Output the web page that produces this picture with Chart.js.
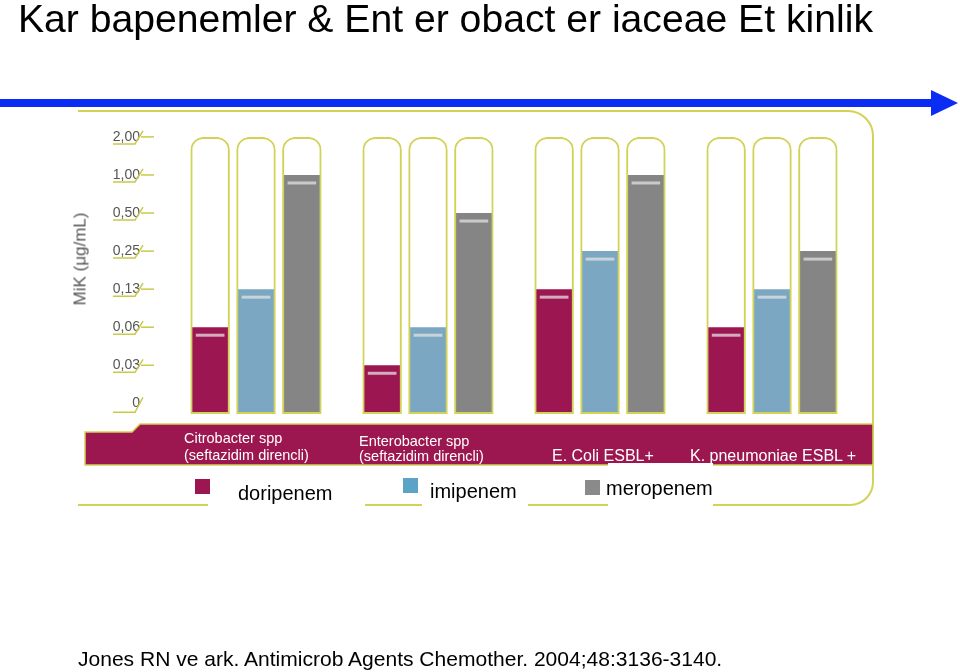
<!DOCTYPE html>
<html>
<head>
<meta charset="utf-8">
<script src="https://cdn.jsdelivr.net/npm/chart.js@4.4.1/dist/chart.umd.min.js"></script>
<style>
  body { margin: 0; background: #fff; }
  #page { position: relative; width: 960px; height: 672px; overflow: hidden; font-family: "Liberation Sans", Arial, sans-serif; }
  #page canvas { position: absolute; left: 0; top: 0; }
  .txt { position: absolute; white-space: nowrap; line-height: 1; transform-origin: 0 0; }
  .band { color: #fff; }
  .sq { position: absolute; width: 15px; height: 15px; }
</style>
</head>
<body>
<div id="page">
  <canvas id="chart" width="960" height="672"></canvas>

  <div class="txt" id="title" style="left:18px; top:-1px; font-size:39px; color:#000;">Kar bapenemler &amp; Ent er obact er iaceae Et kinlik</div>

  <div class="txt" id="ytitle" style="left:80px; top:259px; font-size:17px; color:#555; transform: translate(-50%,-50%) rotate(-90deg); transform-origin: 50% 50%;">MiK (μg/mL)</div>

  <div class="txt band" style="left:184px; top:431px; font-size:14.5px;">Citrobacter spp</div>
  <div class="txt band" style="left:184px; top:448px; font-size:14.5px;">(seftazidim direncli)</div>
  <div class="txt band" style="left:359px; top:434px; font-size:14.5px;">Enterobacter spp</div>
  <div class="txt band" style="left:359px; top:449px; font-size:14.5px;">(seftazidim direncli)</div>
  <div class="txt band" style="left:552px; top:448px; font-size:16px;">E. Coli ESBL+</div>
  <div class="txt band" style="left:690px; top:448px; font-size:16px;">K. pneumoniae ESBL +</div>

  <div id="legend"></div>

  <div class="txt" id="footer" style="left:78px; top:648px; font-size:21px; color:#000;">Jones RN ve ark. Antimicrob Agents Chemother. 2004;48:3136-3140.</div>
</div>

<script>
// MIC levels on the (log-like) axis, shown as equal steps
const MIC_LEVELS = [0, 0.03, 0.06, 0.13, 0.25, 0.5, 1, 2];
const TICK_LABELS = ['0', '0,03', '0,06', '0,13', '0,25', '0,50', '1,00', '2,00'];

const ORGANISMS = ['Citrobacter spp', 'Enterobacter spp', 'E. Coli ESBL+', 'K. pneumoniae ESBL +'];

const SERIES_NAMES = ['doripenem', 'imipenem', 'meropenem'];
const DORIPENEM = [0.06, 0.03, 0.13, 0.06];
const IMIPENEM = [0.13, 0.06, 0.25, 0.13];
const MEROPENEM = [1, 0.5, 1, 0.25];

const BAR_COLORS = ['#9c1652', '#7ba7c2', '#858585'];
const LEGEND_COLORS = ['#9c1652', '#5ba4c6', '#8a8a8a'];
const OLIVE = '#d2d257';
const Y_MIN = -0.28;

// convert a MIC value to its step on the axis
function level(v){
    return MIC_LEVELS.indexOf(v);
}

let seriesData = [DORIPENEM, IMIPENEM, MEROPENEM];

let datasets = [];

// tube outlines share a slot (stack) with their coloured bar, drawn on top
for(let i=0; i<3; i++){
    datasets.push({
        label: 'tube' + i,
        stack: 's' + i,
        data: ORGANISMS.map(() => MIC_LEVELS.length - 1),
        backgroundColor: 'rgba(0,0,0,0)',
        borderColor: OLIVE,
        borderWidth: 2,
        borderSkipped: false,
        borderRadius: {topLeft: 13, topRight: 13, bottomLeft: 0, bottomRight: 0},
        barPercentage: 0.86,
        base: Y_MIN,
        order: 0
    });
}

for(let i=0; i<3; i++){
    datasets.push({
        label: SERIES_NAMES[i],
        stack: 's' + i,
        data: seriesData[i].map(level),
        backgroundColor: BAR_COLORS[i],
        borderWidth: 0,
        barPercentage: 0.8,
        base: Y_MIN,
        order: 1
    });
}

// background decoration: arrow, frame, organism band
const decoPlugin = {
    id: 'deco',
    beforeDraw(chart){
        let c = chart.ctx;
        c.save();

        // blue arrow
        c.fillStyle = '#0b2cf2';
        c.fillRect(0, 99, 934, 8);
        c.beginPath();
        c.moveTo(931, 90);
        c.lineTo(958, 103);
        c.lineTo(931, 116);
        c.closePath();
        c.fill();

        // olive frame
        c.strokeStyle = OLIVE;
        c.lineWidth = 2;
        c.beginPath();
        c.moveTo(78, 111);
        c.lineTo(848, 111);
        c.arcTo(873, 111, 873, 136, 25);
        c.lineTo(873, 482);
        c.arcTo(873, 505, 850, 505, 23);
        c.lineTo(713, 505);
        c.stroke();
        let gaps = [[78, 208], [365, 422], [528, 608]];
        gaps.forEach(g => {
            c.beginPath();
            c.moveTo(g[0], 505);
            c.lineTo(g[1], 505);
            c.stroke();
        });

        // organism band
        c.fillStyle = '#9c1750';
        c.beginPath();
        c.moveTo(85, 432);
        c.lineTo(132, 432);
        c.lineTo(140, 424);
        c.lineTo(873, 424);
        c.lineTo(873, 465);
        c.lineTo(85, 465);
        c.closePath();
        c.fill();
        c.lineWidth = 1.5;
        c.stroke();

        // white notch under the meropenem label
        c.fillStyle = '#fff';
        c.fillRect(608, 463, 105, 41);

        c.restore();
    },
    afterDraw(chart){
        let c = chart.ctx;
        let ys = chart.scales.y;
        c.save();

        // tick ornaments
        c.strokeStyle = '#c9c94a';
        c.lineWidth = 1.5;
        for(let i=0; i<TICK_LABELS.length; i++){
            let y = ys.getPixelForValue(i);
            let off = i === 0 ? 9 : 7;
            c.beginPath();
            c.moveTo(113, y + off);
            c.lineTo(135, y + off);
            c.lineTo(143, y - 6);
            c.stroke();
            if(i > 0){
                c.beginPath();
                c.moveTo(141, y);
                c.lineTo(154, y);
                c.stroke();
            }
        }

        // light dash near the top of each coloured bar
        c.strokeStyle = 'rgba(225,225,225,0.75)';
        c.lineWidth = 3;
        chart.data.datasets.forEach((ds, di) => {
            if(ds.order !== 1) return;
            chart.getDatasetMeta(di).data.forEach(bar => {
                let half = bar.width / 2 - 4;
                c.beginPath();
                c.moveTo(bar.x - half, bar.y + 8);
                c.lineTo(bar.x + half, bar.y + 8);
                c.stroke();
            });
        });

        c.restore();
    }
};

let ctx = document.getElementById('chart').getContext('2d');

let chart = new Chart(ctx, {
    type: 'bar',
    data: {
        labels: ORGANISMS,
        datasets: datasets
    },
    options: {
        responsive: false,
        animation: false,
        layout: {
            padding: {left: 70, right: 102, top: 135, bottom: 258}
        },
        plugins: {
            legend: {display: false},
            tooltip: {enabled: false}
        },
        scales: {
            x: {
                display: false,
                offset: true,
                stacked: true
            },
            y: {
                stacked: false,
                min: Y_MIN,
                max: 7.05,
                afterFit(scale){
                    scale.width = 100;
                },
                afterBuildTicks(scale){
                    scale.ticks = TICK_LABELS.map((t, i) => ({value: i}));
                },
                grid: {display: false},
                border: {display: false},
                ticks: {
                    padding: 22,
                    color: '#555',
                    font: {family: 'Liberation Sans, Arial', size: 14},
                    callback: function(v){
                        return TICK_LABELS[v];
                    }
                }
            }
        }
    },
    plugins: [decoPlugin]
});

// legend below the band
let legendPos = [
    {sq: [195, 479], tx: [238, 483]},
    {sq: [403, 478], tx: [430, 481]},
    {sq: [585, 480], tx: [606, 478]}
];
let legend = document.getElementById('legend');
SERIES_NAMES.forEach((name, i) => {
    let sq = document.createElement('div');
    sq.className = 'sq';
    sq.style.left = legendPos[i].sq[0] + 'px';
    sq.style.top = legendPos[i].sq[1] + 'px';
    sq.style.background = LEGEND_COLORS[i];
    legend.appendChild(sq);

    let tx = document.createElement('div');
    tx.className = 'txt';
    tx.style.left = legendPos[i].tx[0] + 'px';
    tx.style.top = legendPos[i].tx[1] + 'px';
    tx.style.fontSize = '20px';
    tx.textContent = name;
    legend.appendChild(tx);
});

// squeeze title and footer to the widths in the slide
function fitWidth(id, w){
    let el = document.getElementById(id);
    let k = w / el.offsetWidth;
    el.style.transform = 'scaleX(' + k + ')';
}
fitWidth('title', 855);
fitWidth('footer', 644);
</script>
</body>
</html>
